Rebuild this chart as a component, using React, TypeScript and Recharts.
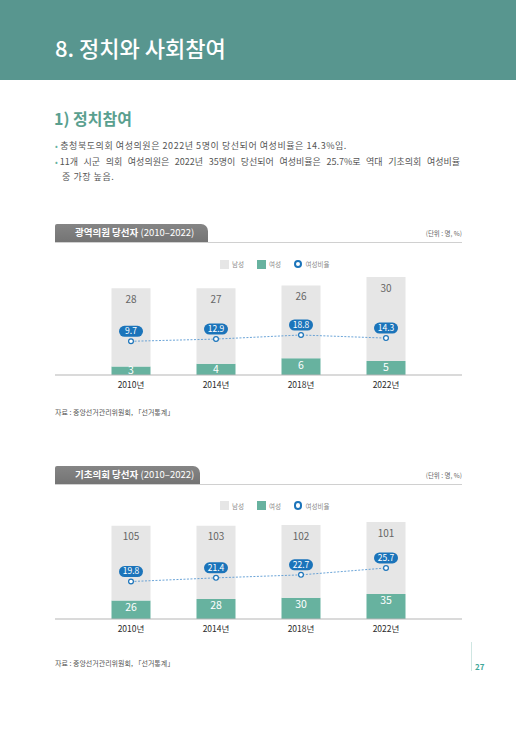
import React from 'react'
import { ComposedChart, Bar, Line, XAxis, YAxis, LabelList } from 'recharts'

const years = ['2010년', '2014년', '2018년', '2022년']

// 광역의원
const metroMale = [28, 27, 26, 30]
const metroFemale = [3, 4, 6, 5]
const metroRate = [9.7, 12.9, 18.8, 14.3]

// 기초의원
const localMale = [105, 103, 102, 101]
const localFemale = [26, 28, 30, 35]
const localRate = [19.8, 21.4, 22.7, 25.7]

const FONT = '"Noto Sans CJK KR", "Noto Sans", sans-serif'
const TEAL = '#67b29f'
const GRAY_BAR = '#e6e6e6'
const BLUE = '#1b74ba'

const toRows = (male: number[], female: number[], rate: number[]) =>
  years.map((year, i) => ({ year, male: male[i], female: female[i], rate: rate[i] }))

const MaleLabel = (p: any) => (
  <text
    x={p.x + p.width / 2}
    y={p.y + 12}
    textAnchor="middle"
    dominantBaseline="middle"
    fontSize={10}
    fill="#666"
    fontFamily={FONT}
  >
    {p.value}
  </text>
)

const FemaleLabel = (p: any) => (
  <text
    x={p.x + p.width / 2}
    y={p.y + Math.min(7.5, p.height * 0.6)}
    textAnchor="middle"
    dominantBaseline="middle"
    fontSize={10.5}
    fill="#fff"
    fontFamily={FONT}
  >
    {p.value}
  </text>
)

const RatePill = (p: any) => {
  const cx = p.x
  const cy = p.y - 10
  return (
    <g>
      <rect x={cx - 12} y={cy - 5.5} width={24} height={11} rx={5.5} fill={BLUE} />
      <text
        x={cx}
        y={cy + 0.5}
        textAnchor="middle"
        dominantBaseline="middle"
        fontSize={8.5}
        fill="#fff"
        fontFamily={FONT}
      >
        {Number(p.value).toFixed(1)}
      </text>
    </g>
  )
}

const RateDot = (p: any) => (
  <circle key={p.index} cx={p.cx} cy={p.cy} r={2.4} fill="#fff" stroke={BLUE} strokeWidth={1.2} />
)

const YearTick = (p: any) => (
  <text
    x={p.x}
    y={p.y + 11}
    textAnchor="middle"
    dominantBaseline="middle"
    fontSize={8.5}
    fill="#2a2a2a"
    fontFamily={FONT}
  >
    {p.payload.value}
  </text>
)

interface CouncilChartProps {
  data: any[]
  top: number
  plotHeight: number
  leftMax: number
  rateDomain: [number, number]
}

function CouncilChart({ data, top, plotHeight, leftMax, rateDomain }: CouncilChartProps) {
  return (
    <div style={{ position: 'absolute', left: 55, top }}>
      <ComposedChart
        width={407}
        height={plotHeight + 20}
        data={data}
        margin={{ top: 0, right: 0, bottom: 0, left: 0 }}
      >
        <XAxis
          dataKey="year"
          padding={{ left: 33.5, right: 33.5 }}
          axisLine={{ stroke: '#b5b5b5', strokeWidth: 1 }}
          tickLine={false}
          tickSize={0}
          tickMargin={0}
          height={20}
          tick={<YearTick />}
        />
        <YAxis yAxisId="l" hide domain={[0, leftMax]} allowDataOverflow />
        <YAxis yAxisId="r" hide domain={rateDomain} allowDataOverflow orientation="right" />
        <Bar dataKey="female" yAxisId="l" stackId="a" fill={TEAL} barSize={39} isAnimationActive={false}>
          <LabelList dataKey="female" content={<FemaleLabel />} />
        </Bar>
        <Bar dataKey="male" yAxisId="l" stackId="a" fill={GRAY_BAR} barSize={39} isAnimationActive={false}>
          <LabelList dataKey="male" content={<MaleLabel />} />
        </Bar>
        <Line
          dataKey="rate"
          yAxisId="r"
          type="linear"
          stroke="#5a9ad2"
          strokeWidth={0.9}
          strokeDasharray="2 1.5"
          dot={<RateDot />}
          activeDot={false}
          isAnimationActive={false}
        >
          <LabelList dataKey="rate" content={<RatePill />} />
        </Line>
      </ComposedChart>
    </div>
  )
}

function ChartLegend({ top }: { top: number }) {
  const txt: React.CSSProperties = { fontSize: 6.5, color: '#8a8a8a', marginLeft: 3 }
  return (
    <div
      style={{
        position: 'absolute',
        left: 220,
        top: top - 5,
        height: 10,
        display: 'flex',
        alignItems: 'center',
        fontFamily: FONT,
      }}
    >
      <span style={{ width: 9, height: 9, background: GRAY_BAR, display: 'inline-block' }} />
      <span style={{ ...txt, marginRight: 13 }}>남성</span>
      <span style={{ width: 9, height: 9, background: TEAL, display: 'inline-block' }} />
      <span style={{ ...txt, marginRight: 13 }}>여성</span>
      <span
        style={{
          width: 4.5,
          height: 4.5,
          borderRadius: '50%',
          border: `2px solid ${BLUE}`,
          display: 'inline-block',
        }}
      />
      <span style={txt}>여성비율</span>
    </div>
  )
}

function ChartHeader({ top, width, title }: { top: number; width: number; title: string }) {
  return (
    <>
      <div
        style={{
          position: 'absolute',
          left: 55,
          top,
          width,
          height: 17.5,
          background: 'linear-gradient(#858585, #747474)',
          borderTopRightRadius: 7,
          borderTopLeftRadius: 2,
          color: '#fff',
          fontFamily: FONT,
          fontSize: 9.5,
          lineHeight: '17.5px',
          paddingLeft: 20,
          boxSizing: 'border-box',
          whiteSpace: 'nowrap',
        }}
      >
        <b>{title}</b> <span style={{ fontWeight: 400 }}>(2010–2022)</span>
      </div>
      <div style={{ position: 'absolute', left: 55, top: top + 17.5, width: 407, height: 1, background: '#d0d0d0' }} />
      <div
        style={{
          position: 'absolute',
          right: 516 - 462,
          top: top + 4,
          fontFamily: FONT,
          fontSize: 6.5,
          color: '#666',
          whiteSpace: 'nowrap',
        }}
      >
        (단위 : 명, %)
      </div>
    </>
  )
}

const Source = ({ top }: { top: number }) => (
  <div
    style={{
      position: 'absolute',
      left: 55,
      top: top - 6,
      fontFamily: FONT,
      fontSize: 7,
      color: '#555',
      whiteSpace: 'nowrap',
    }}
  >
    자료 : 중앙선거관리위원회, 「선거통계」
  </div>
)

export default function App() {
  const bullet: React.CSSProperties = {
    position: 'absolute',
    left: 55,
    width: 405,
    fontFamily: FONT,
    fontSize: 9,
    letterSpacing: 0.55,
    color: '#555',
    lineHeight: '15.5px',
    whiteSpace: 'nowrap',
  }
  const dot = <span style={{ color: TEAL, marginRight: 2, fontSize: 8 }}>•</span>
  return (
    <div
      style={{
        position: 'absolute',
        left: 0,
        top: 0,
        width: 516,
        height: 729,
        background: '#fff',
        overflow: 'hidden',
        fontFamily: FONT,
      }}
    >
      <div style={{ position: 'absolute', left: 0, top: 0, width: 516, height: 80, background: '#58968f' }} />
      <div
        style={{
          position: 'absolute',
          left: 55,
          top: 33,
          fontSize: 22,
          lineHeight: '28px',
          color: '#fff',
          fontWeight: 500,
          whiteSpace: 'nowrap',
        }}
      >
        8. 정치와 사회참여
      </div>
      <div
        style={{
          position: 'absolute',
          left: 54,
          top: 107,
          fontSize: 16,
          lineHeight: '22px',
          color: '#5aa08f',
          fontWeight: 700,
          whiteSpace: 'nowrap',
        }}
      >
        1) 정치참여
      </div>
      <div style={{ ...bullet, top: 138 }}>
        {dot}충청북도의회 여성의원은 2022년 5명이 당선되어 여성비율은 14.3%임.
      </div>
      <div
        style={{
          ...bullet,
          top: 153.5,
          letterSpacing: 0,
          textAlign: 'justify',
          textAlignLast: 'justify' as any,
          whiteSpace: 'normal',
        }}
      >
        {dot}11개 시군 의회 여성의원은 2022년 35명이 당선되어 여성비율은 25.7%로 역대 기초의회 여성비율
      </div>
      <div style={{ ...bullet, top: 169, left: 62 }}>중 가장 높음.</div>

      <ChartHeader top={224} width={153} title="광역의원 당선자" />
      <ChartLegend top={264} />
      <CouncilChart
        data={toRows(metroMale, metroFemale, metroRate)}
        top={263}
        plotHeight={112}
        leftMax={40}
        rateDomain={[-39.1, 123]}
      />
      <Source top={413} />

      <ChartHeader top={466} width={145} title="기초의회 당선자" />
      <ChartLegend top={505.5} />
      <CouncilChart
        data={toRows(localMale, localFemale, localRate)}
        top={504.7}
        plotHeight={114}
        leftMax={160}
        rateDomain={[3.5, 53.1]}
      />
      <Source top={663.5} />

      <div style={{ position: 'absolute', left: 470.5, top: 642, width: 1.5, height: 29, background: '#cfe6e2' }} />
      <div
        style={{
          position: 'absolute',
          left: 475,
          top: 661,
          fontSize: 8,
          color: '#3fa89a',
          fontWeight: 700,
          lineHeight: '12px',
        }}
      >
        27
      </div>
    </div>
  )
}
